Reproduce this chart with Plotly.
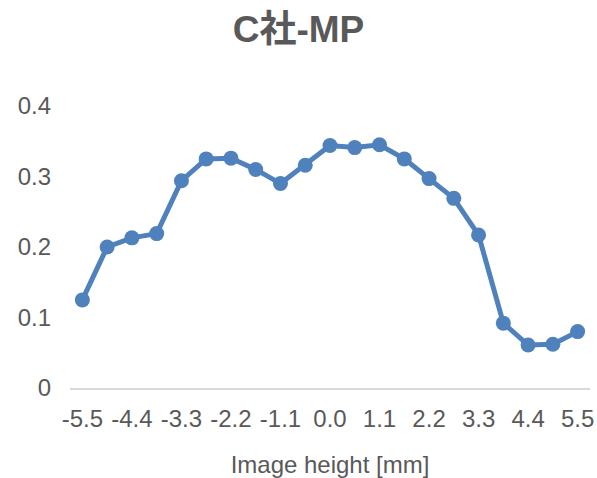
import plotly.graph_objects as go

x_values = [-5.5, -4.95, -4.4, -3.85, -3.3, -2.75, -2.2, -1.65, -1.1, -0.55, 0.0,
            0.55, 1.1, 1.65, 2.2, 2.75, 3.3, 3.85, 4.4, 4.95, 5.5]
mp_values = [0.125, 0.200, 0.213, 0.219, 0.294, 0.325, 0.326, 0.310, 0.290, 0.316, 0.344,
             0.341, 0.345, 0.325, 0.297, 0.269, 0.217, 0.092, 0.061, 0.062, 0.080]
x_tick_labels = ["-5.5", "-4.4", "-3.3", "-2.2", "-1.1", "0.0", "1.1", "2.2", "3.3", "4.4", "5.5"]
y_tick_values = [0, 0.1, 0.2, 0.3, 0.4]
y_tick_labels = ["0", "0.1", "0.2", "0.3", "0.4"]

FONT = "Liberation Sans, Arial, Noto Sans CJK JP, sans-serif"
GREY = "#595959"
BLUE = "#4F81BD"

fig = go.Figure()
fig.add_trace(go.Scatter(
    x=x_values, y=mp_values, mode="lines+markers",
    line=dict(color=BLUE, width=5),
    marker=dict(color=BLUE, size=15, line=dict(width=0)),
    showlegend=False,
))

fig.update_layout(
    width=597, height=478,
    margin=dict(l=70, r=7, t=106, b=90),
    paper_bgcolor="white", plot_bgcolor="white",
    font=dict(family=FONT, color=GREY, size=24),
    title=dict(text="<b>C社-MP</b>", x=0.5, xanchor="center", y=1 - 29 / 478, yanchor="middle",
               font=dict(family=FONT, size=37, color=GREY)),
    xaxis=dict(
        range=[-5.775, 5.775], tickmode="array", tickvals=x_values[::2], ticktext=x_tick_labels,
        showgrid=False, zeroline=False, showline=True, linecolor="#D9D9D9", linewidth=2,
        ticks="", ticklabelstandoff=8, tickfont=dict(size=24, color=GREY),
        title=dict(text="Image height [mm]", font=dict(size=24, color=GREY), standoff=25),
        automargin=False,
    ),
    yaxis=dict(
        range=[0, 0.4], tickmode="array", tickvals=y_tick_values, ticktext=y_tick_labels,
        showgrid=False, zeroline=False, showline=False, ticks="",
        ticklabelstandoff=18, tickfont=dict(size=24, color=GREY), automargin=False,
    ),
)

fig.write_html("out.html")
